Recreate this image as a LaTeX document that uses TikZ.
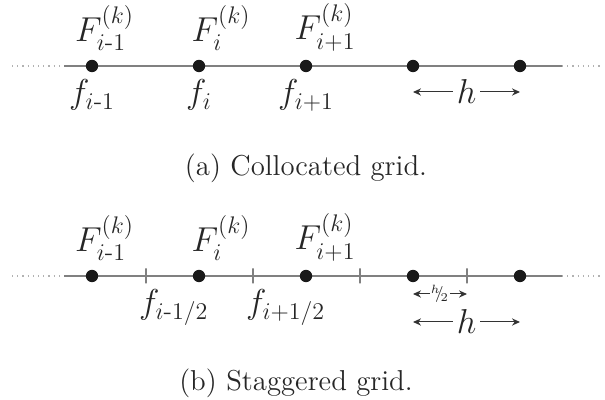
\documentclass[tikz,border=0pt]{standalone}
\usepackage{amsmath}
\usepackage{tikz}
\usetikzlibrary{positioning, arrows.meta}

\begin{document}
\begin{tikzpicture}[
  x=0.5pt, y=-0.5pt,
  every node/.style={inner sep=1pt, text=black!85},
  grid/.style={draw=gray, line width=0.8pt},
  ghost/.style={draw=gray!60, dotted, line width=0.6pt},
  pt/.style={circle, fill=black!90, inner sep=0pt, minimum size=6.2pt},
  tick/.style={draw=gray, line width=0.6pt, inner sep=0pt, minimum width=0pt, minimum height=7.5pt},
  dim/.style={draw=black!80, line width=0.5pt, >={Stealth[length=4pt,width=3.6pt]}},
  hlab/.style={fill=white, font=\LARGE, inner xsep=2pt, inner ysep=0.5pt},
  flab/.style={font=\fontsize{18.5}{22}\selectfont},
  captext/.style={font=\fontsize{14.4}{17}\selectfont, anchor=base}
]
\useasboundingbox (0,0) rectangle (605,400);

% (a) collocated grid
\coordinate (a0) at (12,66);
\coordinate (a1) at (64,66);
\coordinate (a2) at (562,66);
\coordinate (a3) at (603,66);
\draw[ghost] (a0) -- (a1);
\draw[grid] (a1) -- (a2);
\draw[ghost] (a2) -- (a3);

\node[pt] (p1) at (92,66) {};
\node[pt] (p2) at (199,66) {};
\node[pt] (p3) at (306,66) {};
\node[pt] (p4) at (413,66) {};
\node[pt] (p5) at (520,66) {};

\node[flab, above right=4pt and -12pt of p1] {$F_{i\text{-}1}^{(k)}$};
\node[flab, above right=4pt and -7.25pt of p2] {$F_{i}^{(k)}$};
\node[flab, above right=4pt and -9.25pt of p3] {$F_{i+1}^{(k)}$};

\node[flab, below=2.5pt of p1] {$f_{i\text{-}1}$};
\node[flab, below=2.5pt of p2] {$f_{i}$};
\node[flab, below=2.5pt of p3] {$f_{i+1}$};

\coordinate (h1) at ([yshift=-13pt]p4.center);
\coordinate (h2) at ([yshift=-13pt]p5.center);
\draw[dim, <->] (h1) -- node[hlab] {$h$} (h2);

\node[captext] (capa) at (306,176) {(a) Collocated grid.};

% (b) staggered grid
\coordinate (b0) at (12,276);
\coordinate (b1) at (64,276);
\coordinate (b2) at (562,276);
\coordinate (b3) at (603,276);
\draw[ghost] (b0) -- (b1);
\draw[grid] (b1) -- (b2);
\draw[ghost] (b2) -- (b3);

\node[tick] (t1) at (146,276) {};
\node[tick] (t2) at (253,276) {};
\node[tick] (t3) at (360,276) {};
\node[tick] (t4) at (467,276) {};

\node[pt] (q1) at (92,276) {};
\node[pt] (q2) at (199,276) {};
\node[pt] (q3) at (306,276) {};
\node[pt] (q4) at (413,276) {};
\node[pt] (q5) at (520,276) {};

\node[flab, above right=4pt and -12pt of q1] {$F_{i\text{-}1}^{(k)}$};
\node[flab, above right=4pt and -7.25pt of q2] {$F_{i}^{(k)}$};
\node[flab, above right=4pt and -9.25pt of q3] {$F_{i+1}^{(k)}$};

\node[flab, below right=1.5pt and -5pt of t1] {$f_{i\text{-}1/2}$};
\node[flab, below right=1.5pt and -5pt of t2] {$f_{i+1/2}$};

\coordinate (g1) at ([yshift=-9pt]q4.center);
\coordinate (g2) at ([yshift=-9pt]t4.center);
\draw[dim, <->] (g1) -- node[fill=white, font=\footnotesize, inner sep=0.5pt] {${}^{h}\!\!/\!_{2}$} (g2);

\coordinate (k1) at ([yshift=-23pt]q4.center);
\coordinate (k2) at ([yshift=-23pt]q5.center);
\draw[dim, <->] (k1) -- node[hlab] {$h$} (k2);

\node[captext] (capb) at (296,391) {(b) Staggered grid.};
\end{tikzpicture}
\end{document}
